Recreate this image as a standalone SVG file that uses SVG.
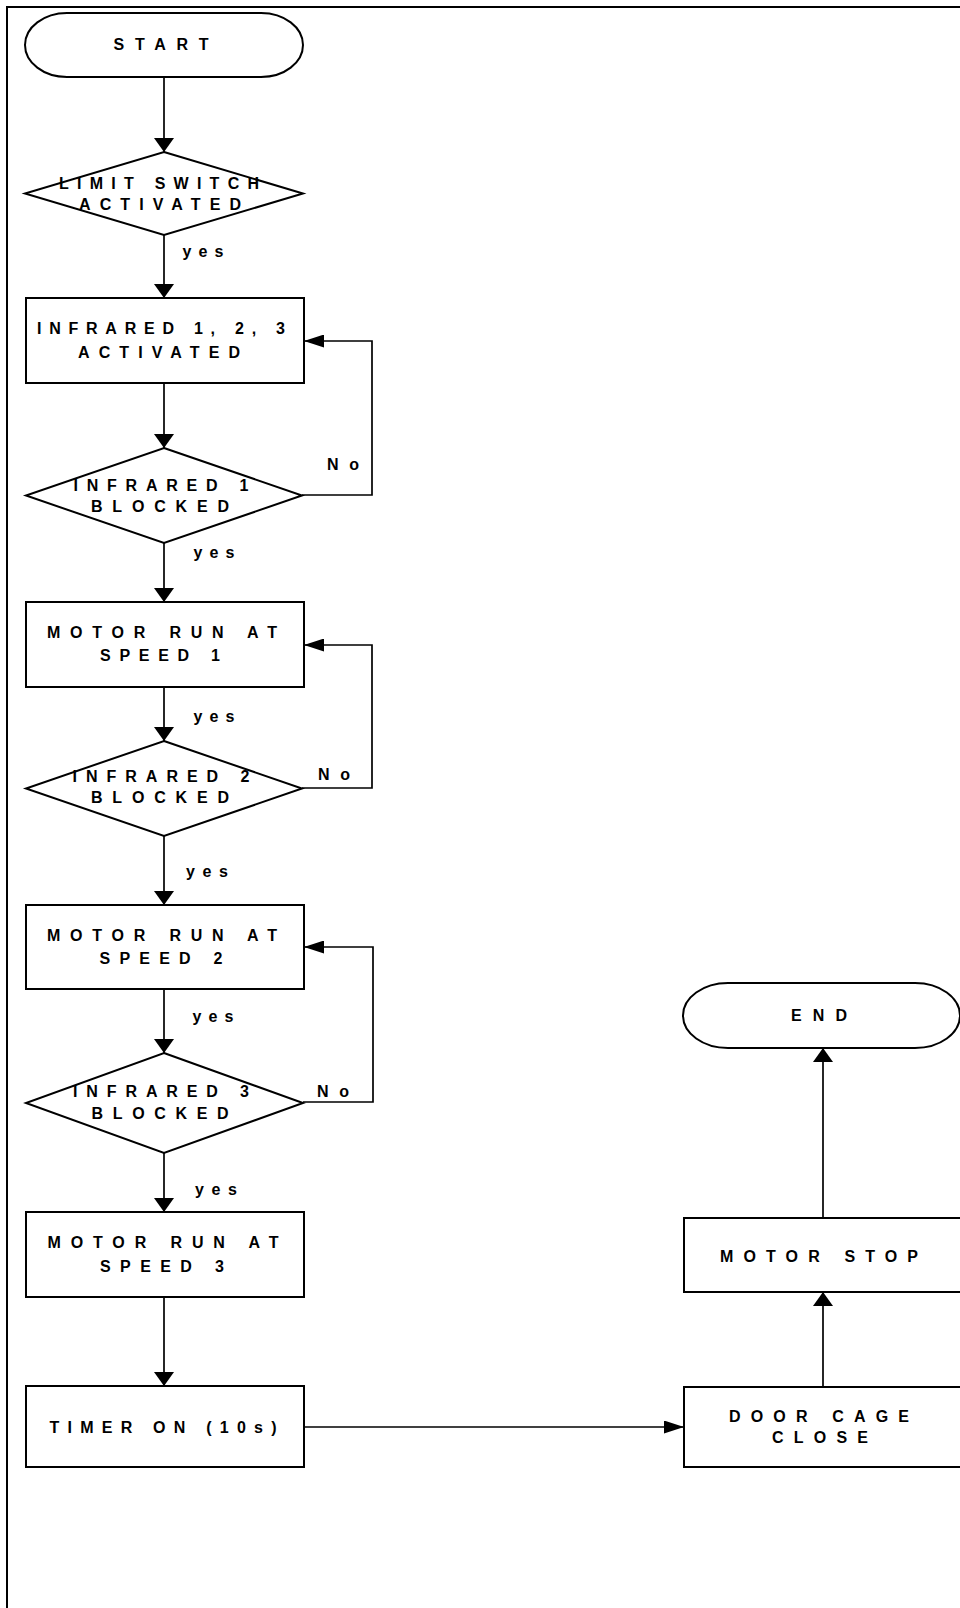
<svg xmlns="http://www.w3.org/2000/svg" width="960" height="1608" viewBox="0 0 960 1608">
<style>
.shape{fill:#fff;stroke:#000;stroke-width:2}
.conn{fill:none;stroke:#000;stroke-width:1.7}
.t{font-family:"Liberation Sans",Arial,Helvetica,sans-serif;font-weight:bold;font-size:16px;fill:#000;text-anchor:middle}
</style>
<defs>
<marker id="av" viewBox="0 0 14 20" refX="14" refY="10" markerWidth="14" markerHeight="20" markerUnits="userSpaceOnUse" orient="auto">
<path d="M0,0 L14,10 L0,20 z" fill="#000"/>
</marker>
<marker id="ah" viewBox="0 0 20 13" refX="20" refY="6.5" markerWidth="20" markerHeight="13" markerUnits="userSpaceOnUse" orient="auto">
<path d="M0,0 L20,6.5 L0,13 z" fill="#000"/>
</marker>
</defs>
<rect width="960" height="1608" fill="#fff"/>
<path d="M7,1608 V7 H960" fill="none" stroke="#000" stroke-width="2"/>

<g id="connectors">
<path class="conn" d="M164,77 V152" marker-end="url(#av)"/>
<path class="conn" d="M164,235 V298" marker-end="url(#av)"/>
<path class="conn" d="M164,383 V448" marker-end="url(#av)"/>
<path class="conn" d="M302,495 H372 V341 H304" marker-end="url(#ah)"/>
<path class="conn" d="M164,543 V602" marker-end="url(#av)"/>
<path class="conn" d="M164,687 V741" marker-end="url(#av)"/>
<path class="conn" d="M302,788 H372 V645 H304" marker-end="url(#ah)"/>
<path class="conn" d="M164,836 V905" marker-end="url(#av)"/>
<path class="conn" d="M164,989 V1053" marker-end="url(#av)"/>
<path class="conn" d="M303,1102 H373 V947 H304" marker-end="url(#ah)"/>
<path class="conn" d="M164,1153 V1212" marker-end="url(#av)"/>
<path class="conn" d="M164,1297 V1386" marker-end="url(#av)"/>
<path class="conn" d="M304,1427 H684" marker-end="url(#ah)"/>
<path class="conn" d="M823,1387 V1292" marker-end="url(#av)"/>
<path class="conn" d="M823,1218 V1048" marker-end="url(#av)"/>
<text class="t" x="203" y="257" textLength="41" lengthAdjust="spacing">yes</text>
<text class="t" x="343" y="470" textLength="32" lengthAdjust="spacing">No</text>
<text class="t" x="214" y="558" textLength="41" lengthAdjust="spacing">yes</text>
<text class="t" x="214" y="722" textLength="41" lengthAdjust="spacing">yes</text>
<text class="t" x="334" y="780" textLength="32" lengthAdjust="spacing">No</text>
<text class="t" x="207" y="877" textLength="42" lengthAdjust="spacing">yes</text>
<text class="t" x="213" y="1022" textLength="41" lengthAdjust="spacing">yes</text>
<text class="t" x="333" y="1097" textLength="32" lengthAdjust="spacing">No</text>
<text class="t" x="216" y="1195" textLength="42" lengthAdjust="spacing">yes</text>
</g>

<g id="start">
<rect class="shape" x="25" y="13" width="278" height="64" rx="42" ry="32"/>
<text class="t" x="161" y="50" textLength="95" lengthAdjust="spacing">START</text>
</g>

<g id="limit-switch">
<polygon class="shape" points="164,152 303,193.5 164,235 25,193.5"/>
<text class="t" x="159" y="189" textLength="200" lengthAdjust="spacing">LIMIT SWITCH</text>
<text class="t" x="160" y="210" textLength="162" lengthAdjust="spacing">ACTIVATED</text>
</g>

<g id="infrared-activated">
<rect class="shape" x="26" y="298" width="278" height="85"/>
<text class="t" x="161" y="334" textLength="248" lengthAdjust="spacing">INFRARED 1, 2, 3</text>
<text class="t" x="159" y="358" textLength="162" lengthAdjust="spacing">ACTIVATED</text>
</g>

<g id="infrared1">
<polygon class="shape" points="164,448 302,495.5 164,543 26,495.5"/>
<text class="t" x="161" y="491" textLength="175" lengthAdjust="spacing">INFRARED 1</text>
<text class="t" x="160" y="512" textLength="138" lengthAdjust="spacing">BLOCKED</text>
</g>

<g id="speed1">
<rect class="shape" x="26" y="602" width="278" height="85"/>
<text class="t" x="162" y="638" textLength="230" lengthAdjust="spacing">MOTOR RUN AT</text>
<text class="t" x="160" y="661" textLength="120" lengthAdjust="spacing">SPEED 1</text>
</g>

<g id="infrared2">
<polygon class="shape" points="164,741 302,788.5 164,836 26,788.5"/>
<text class="t" x="161" y="782" textLength="177" lengthAdjust="spacing">INFRARED 2</text>
<text class="t" x="160" y="803" textLength="138" lengthAdjust="spacing">BLOCKED</text>
</g>

<g id="speed2">
<rect class="shape" x="26" y="905" width="278" height="84"/>
<text class="t" x="162" y="941" textLength="230" lengthAdjust="spacing">MOTOR RUN AT</text>
<text class="t" x="161" y="964" textLength="123" lengthAdjust="spacing">SPEED 2</text>
</g>

<g id="infrared3">
<polygon class="shape" points="164,1053 303,1103 164,1153 26,1103"/>
<text class="t" x="161" y="1097" textLength="176" lengthAdjust="spacing">INFRARED 3</text>
<text class="t" x="160" y="1119" textLength="137" lengthAdjust="spacing">BLOCKED</text>
</g>

<g id="speed3">
<rect class="shape" x="26" y="1212" width="278" height="85"/>
<text class="t" x="163" y="1248" textLength="231" lengthAdjust="spacing">MOTOR RUN AT</text>
<text class="t" x="162" y="1272" textLength="124" lengthAdjust="spacing">SPEED 3</text>
</g>

<g id="timer">
<rect class="shape" x="26" y="1386" width="278" height="81"/>
<text class="t" x="163" y="1433" textLength="227" lengthAdjust="spacing">TIMER ON (10s)</text>
</g>

<g id="door-cage">
<rect class="shape" x="684" y="1387" width="280" height="80"/>
<text class="t" x="819" y="1422" textLength="180" lengthAdjust="spacing">DOOR CAGE</text>
<text class="t" x="820" y="1443" textLength="96" lengthAdjust="spacing">CLOSE</text>
</g>

<g id="motor-stop">
<rect class="shape" x="684" y="1218" width="280" height="74"/>
<text class="t" x="819" y="1262" textLength="198" lengthAdjust="spacing">MOTOR STOP</text>
</g>

<g id="end">
<rect class="shape" x="683" y="983" width="277" height="65" rx="45" ry="32.5"/>
<text class="t" x="819" y="1021" textLength="56" lengthAdjust="spacing">END</text>
</g>
</svg>
